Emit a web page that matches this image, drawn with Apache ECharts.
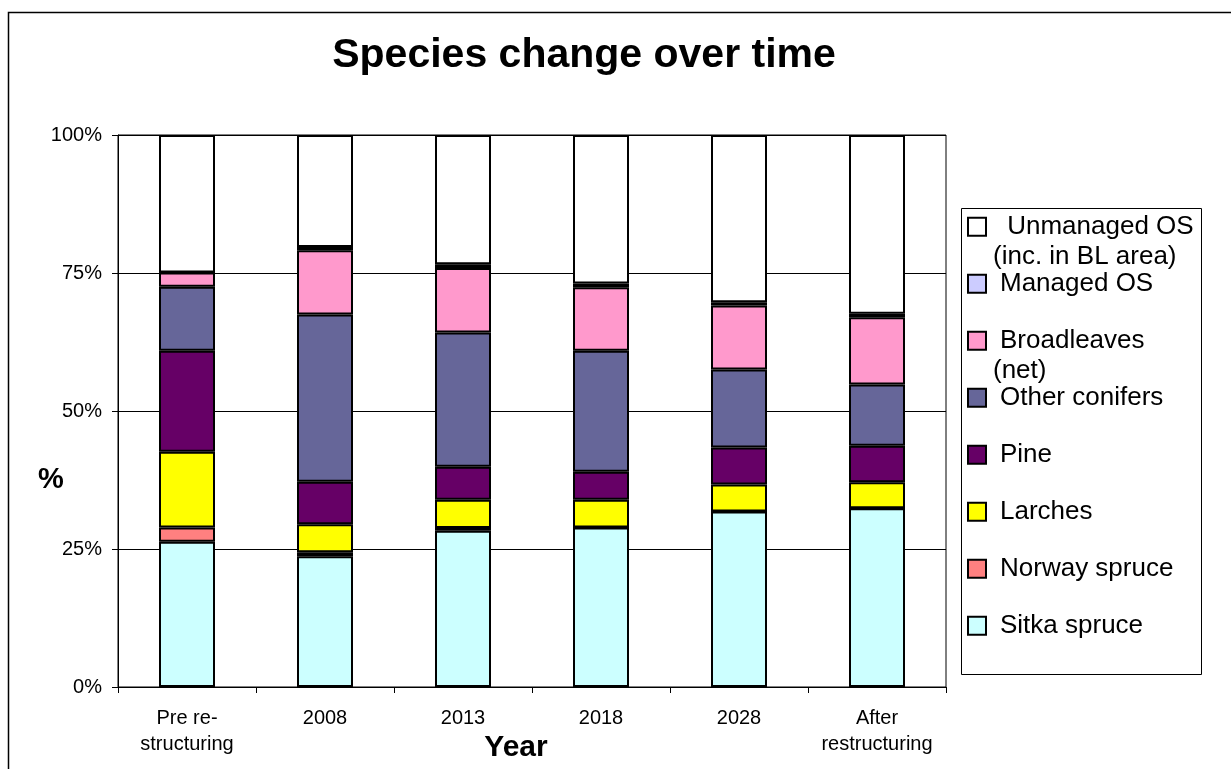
<!DOCTYPE html>
<html>
<head>
<meta charset="utf-8">
<title>Species change over time</title>
<script src="https://cdn.jsdelivr.net/npm/echarts@6/dist/echarts.min.js"></script>
<style>
  html, body { margin: 0; padding: 0; background: #fff; }
  #chart { width: 1231px; height: 769px; }
</style>
</head>
<body>
<div id="chart"></div>
<script>
// Periods on the x axis
const periods = ['Pre re-\nstructuring', '2008', '2013', '2018', '2028', 'After\nrestructuring'];

// Share of area (%) per species group, stacked bottom to top
const sitkaSpruce     = [26.3, 23.7, 28.3, 28.9, 31.8, 32.4];
const norwaySpruce    = [2.6, 0.7, 0.5, 0.0, 0.0, 0.0];
const larches         = [13.7, 5.1, 5.1, 5.0, 4.9, 4.7];
const pine            = [18.3, 7.7, 6.0, 5.1, 6.7, 6.6];
const otherConifers   = [11.6, 30.3, 24.3, 21.9, 14.1, 11.1];
const broadleaves     = [2.6, 11.6, 11.7, 11.5, 11.6, 12.2];
const managedOS       = [0.0, 0.6, 0.7, 0.7, 0.6, 0.6];
const unmanagedOS     = [24.9, 20.3, 23.4, 26.9, 30.3, 32.4];

const yTicks = [0, 25, 50, 75, 100];

const FONT = '"Liberation Sans", Arial, sans-serif';

const seriesDefs = [
  { name: 'Sitka spruce',   data: sitkaSpruce,   color: '#CCFFFF' },
  { name: 'Norway spruce',  data: norwaySpruce,  color: '#FF8080' },
  { name: 'Larches',        data: larches,       color: '#FFFF00' },
  { name: 'Pine',           data: pine,          color: '#660066' },
  { name: 'Other conifers', data: otherConifers, color: '#666699' },
  { name: 'Broadleaves',    data: broadleaves,   color: '#FF99CC' },
  { name: 'Managed OS',     data: managedOS,     color: '#CCCCFF' },
  { name: 'Unmanaged OS',   data: unmanagedOS,   color: '#FFFFFF' }
];

// Legend text, top entry first; second lines are wrapped captions
const legendLabels = {
  'Unmanaged OS':   ['\u00a0Unmanaged OS', '(inc. in BL area)'],
  'Managed OS':     ['Managed OS'],
  'Broadleaves':    ['Broadleaves', '(net)'],
  'Other conifers': ['Other conifers'],
  'Pine':           ['Pine'],
  'Larches':        ['Larches'],
  'Norway spruce':  ['Norway spruce'],
  'Sitka spruce':   ['Sitka spruce']
};

const legendOrder = seriesDefs.map(s => s.name).reverse();
const LEG_FIRST = 226.7, LEG_STEP = 57, LINE_H = 30;

const legends = legendOrder.map((name, i) => {
  const lines = legendLabels[name];
  const multi = lines.length > 1;
  const cy = LEG_FIRST + LEG_STEP * i;
  return {
    data: [name],
    orient: 'vertical',
    left: 967,
    top: multi ? cy - 1.5 * LINE_H : cy - LINE_H / 2,
    padding: 0,
    itemGap: 0,
    itemWidth: 18,
    itemHeight: 18,
    icon: 'rect',
    selectedMode: false,
    itemStyle: { borderColor: '#000', borderWidth: 2 },
    formatter: () => multi ? '{a|' + lines[0] + '}\n{b|' + lines[1] + '}' : '{a|' + lines[0] + '}',
    textStyle: {
      fontFamily: FONT,
      fontSize: 26,
      color: '#000',
      lineHeight: LINE_H,
      padding: multi ? [LINE_H, 0, 0, 2] : [0, 0, 0, 2],
      rich: {
        a: { fontFamily: FONT, fontSize: 26, color: '#000', lineHeight: LINE_H, padding: [0, 0, 0, 7] },
        b: { fontFamily: FONT, fontSize: 26, color: '#000', lineHeight: LINE_H }
      }
    }
  };
});

const chart = echarts.init(document.getElementById('chart'), null, { renderer: 'canvas' });

chart.setOption({
  backgroundColor: '#fff',
  animation: false,
  textStyle: { fontFamily: FONT },
  grid: {
    left: 118, right: 285, top: 135, bottom: 82,
    outerBoundsMode: 'none',
    containLabel: false,
    show: true, borderColor: '#000', borderWidth: 1, backgroundColor: 'transparent'
  },
  legend: legends,
  xAxis: {
    type: 'category',
    data: periods,
    boundaryGap: true,
    axisLine: { lineStyle: { color: '#000', width: 1 } },
    axisTick: { show: true, length: 6, lineStyle: { color: '#000' } },
    axisLabel: { color: '#000', fontSize: 20, lineHeight: 26, margin: 18, fontFamily: FONT, interval: 0 },
    name: 'Year',
    nameLocation: 'middle',
    nameGap: 46,
    nameMoveOverlap: false,
    nameTextStyle: { fontFamily: FONT, fontSize: 30, fontWeight: 'bold', color: '#000', padding: [0, 32, 0, 0] }
  },
  yAxis: {
    type: 'value',
    min: yTicks[0],
    max: yTicks[yTicks.length - 1],
    interval: yTicks[1] - yTicks[0],
    axisLine: { show: true, lineStyle: { color: '#000', width: 1 } },
    axisTick: { show: true, length: 6, lineStyle: { color: '#000' } },
    axisLabel: { color: '#000', fontSize: 20, margin: 16, fontFamily: FONT, formatter: '{value}%' },
    splitLine: { show: true, lineStyle: { color: '#000', width: 1 } }
  },
  series: seriesDefs.map(s => ({
    name: s.name,
    type: 'bar',
    stack: 'share',
    data: s.data,
    barWidth: 56,
    itemStyle: { color: s.color, borderColor: '#000', borderWidth: 2 },
    emphasis: { disabled: true }
  })),
  graphic: [
    // outer chart frame
    { type: 'rect', shape: { x: 8.5, y: 12.5, width: 1400, height: 900 },
      style: { fill: 'none', stroke: '#000', lineWidth: 1.5 }, silent: true, z: -1 },
    // legend frame
    { type: 'rect', shape: { x: 961.5, y: 208.5, width: 240, height: 466 },
      style: { fill: 'none', stroke: '#000', lineWidth: 1 }, silent: true },
    // chart title
    { type: 'text', x: 584, y: 56,
      style: { text: 'Species change over time', fill: '#000', font: 'bold 41px ' + FONT,
               textAlign: 'center', textVerticalAlign: 'middle' }, silent: true },
    // value axis title
    { type: 'text', x: 51, y: 480,
      style: { text: '%', fill: '#000', font: 'bold 29px ' + FONT,
               textAlign: 'center', textVerticalAlign: 'middle' }, silent: true }
  ]
});
</script>
</body>
</html>
